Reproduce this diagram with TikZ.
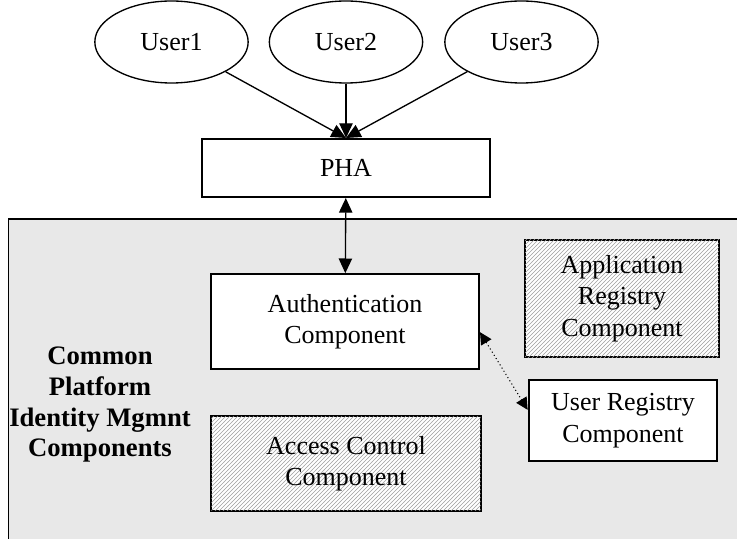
\documentclass[tikz,border=0pt]{standalone}
\usepackage{fontspec}
\setmainfont{Liberation Serif}
\usetikzlibrary{arrows.meta,patterns,shapes.geometric}

\tikzset{
    user/.style={draw, line width=1pt, ellipse, minimum width=115pt, minimum height=61.5pt, inner sep=0pt},
    box/.style={draw, line width=1.5pt, fill=white, align=center, inner sep=0pt},
    hatched/.style={box, postaction={pattern=north east lines, pattern color=gray!75}},
    link/.style={line width=1pt, -{Triangle[length=11pt,width=10pt]}}
}

\begin{document}
\begin{tikzpicture}[x=0.75pt, y=-0.75pt, font=\fontsize{19.5}{23.5}\selectfont]

    % Fix the picture size to the reference proportions
    \useasboundingbox (0,0) rectangle (737,538);

    % Grey area holding the platform components (cut off at the right and bottom)
    \fill[black!9] (8.5,219) rectangle (745,545);
    \draw[line width=1pt] (8.5,545) -- (8.5,219) -- (745,219);

    % The three users at the top
    \node[user] (U1) at (171.5,42) {User1};
    \node[user] (U2) at (346,42) {User2};
    \node[user] (U3) at (521.5,42) {User3};

    % PHA box below the users
    \node[box, minimum width=216pt, minimum height=43.5pt] (PHA) at (346,168) {PHA};

    % Components inside the grey area
    \node[box, minimum width=201pt, minimum height=71pt] (Auth) at (345,321.5) {Authentication\\Component};
    \node[hatched, minimum width=145.5pt, minimum height=88pt] (AppReg) at (622,298.5) {Application\\Registry\\Component};
    \node[box, minimum width=141.5pt, minimum height=61pt] (UserReg) at (623,420.5) {User Registry\\Component};
    \node[hatched, minimum width=202pt, minimum height=71pt] (Access) at (346,463.5) {Access Control\\Component};

    % Bold caption on the left
    \node[font=\fontsize{20}{23}\selectfont\bfseries, align=center] (Caption) at (100,405)
        {Common\\Platform\\Identity Mgmnt\\Components};

    % Arrows from every user into PHA
    \draw[link] (U1) -- (PHA.north);
    \draw[link] (U2) -- (PHA.north);
    \draw[link] (U3) -- (PHA.north);

    % Two-way arrow between PHA and the authentication component
    \draw[link, {Triangle[length=11pt,width=10pt]}-{Triangle[length=11pt,width=10pt]}] (PHA) -- (Auth);

    % Dotted two-way link to the user registry
    \draw[line width=0.8pt, dotted, {Triangle[length=9pt,width=9pt]}-{Triangle[length=9pt,width=9pt]}]
        ([yshift=-8pt]Auth.east) -- ([yshift=8pt]UserReg.west);

\end{tikzpicture}
\end{document}
